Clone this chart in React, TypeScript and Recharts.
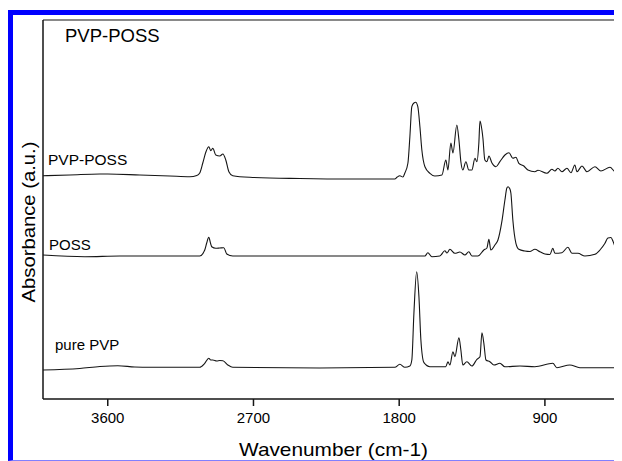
import React from "react";
import { LineChart, Line, XAxis, YAxis, ReferenceLine } from "recharts";

// wavenumber (cm-1), absorbance (a.u., offset traces)
const pvpPossSpectrum: [number, number][] = [
  [4000, 2.233], [3835, 2.24], [3649, 2.25], [3600, 2.25], [3402, 2.24], [3217, 2.23], [3093, 2.223],
  [3050, 2.235], [3032, 2.26], [3013, 2.36], [2994, 2.47], [2976, 2.523], [2964, 2.483], [2951, 2.507],
  [2933, 2.44], [2908, 2.43], [2889, 2.45], [2871, 2.39], [2852, 2.273], [2828, 2.233], [2723, 2.217],
  [2414, 2.205], [2105, 2.2], [1827, 2.2], [1814, 2.217], [1796, 2.233], [1777, 2.22], [1765, 2.26],
  [1746, 2.36], [1734, 2.623], [1722, 2.923], [1709, 2.96], [1698, 2.967], [1685, 2.923], [1672, 2.723],
  [1660, 2.49], [1641, 2.323], [1610, 2.257], [1580, 2.23], [1536, 2.24], [1512, 2.39], [1499, 2.29],
  [1481, 2.56], [1468, 2.46], [1444, 2.74], [1431, 2.59], [1419, 2.373], [1407, 2.29], [1388, 2.373],
  [1370, 2.29], [1351, 2.29], [1332, 2.407], [1320, 2.373], [1308, 2.56], [1301, 2.78], [1289, 2.69],
  [1283, 2.61], [1271, 2.39], [1258, 2.373], [1246, 2.43], [1227, 2.36], [1203, 2.323], [1178, 2.373],
  [1147, 2.44], [1122, 2.463], [1098, 2.407], [1079, 2.417], [1061, 2.357], [1030, 2.33], [1005, 2.29],
  [962, 2.273], [943, 2.287], [888, 2.257], [857, 2.297], [838, 2.28], [820, 2.307], [795, 2.273],
  [764, 2.307], [739, 2.263], [715, 2.34], [702, 2.273], [671, 2.33], [640, 2.273], [591, 2.323],
  [554, 2.28], [498, 2.317], [467, 2.273], [437, 2.267], [430, 2.26],
];

const possSpectrum: [number, number][] = [
  [4000, 1.44], [3742, 1.423], [3526, 1.43], [3032, 1.43], [3001, 1.49], [2989, 1.56], [2976, 1.617],
  [2964, 1.55], [2958, 1.523], [2933, 1.507], [2908, 1.51], [2883, 1.513], [2865, 1.45], [2828, 1.43],
  [2290, 1.43], [1796, 1.43], [1641, 1.43], [1623, 1.463], [1598, 1.423], [1549, 1.43], [1518, 1.483],
  [1505, 1.46], [1487, 1.497], [1456, 1.457], [1425, 1.47], [1394, 1.44], [1370, 1.473], [1351, 1.43],
  [1314, 1.43], [1277, 1.49], [1258, 1.51], [1246, 1.597], [1234, 1.49], [1209, 1.54], [1190, 1.59],
  [1166, 1.773], [1147, 1.99], [1135, 2.11], [1128, 2.123], [1116, 2.1], [1110, 2.057], [1098, 1.79],
  [1079, 1.557], [1061, 1.497], [1024, 1.48], [993, 1.475], [962, 1.497], [931, 1.473], [900, 1.45],
  [869, 1.445], [851, 1.507], [838, 1.457], [795, 1.463], [758, 1.517], [733, 1.457], [696, 1.457],
  [653, 1.43], [591, 1.447], [560, 1.49], [529, 1.557], [511, 1.61], [492, 1.615], [480, 1.58],
  [467, 1.523], [449, 1.473], [437, 1.497], [430, 1.49],
];

const purePvpSpectrum: [number, number][] = [
  [4000, 0.29], [3773, 0.305], [3649, 0.325], [3538, 0.333], [3433, 0.32], [3340, 0.317], [3032, 0.317],
  [3001, 0.357], [2976, 0.407], [2964, 0.39], [2951, 0.39], [2927, 0.38], [2908, 0.385], [2889, 0.383],
  [2858, 0.34], [2828, 0.317], [2290, 0.31], [1827, 0.317], [1796, 0.347], [1765, 0.317], [1734, 0.33],
  [1722, 0.39], [1709, 0.86], [1692, 1.273], [1678, 1.023], [1666, 0.59], [1647, 0.363], [1610, 0.323],
  [1512, 0.323], [1499, 0.373], [1487, 0.34], [1468, 0.473], [1456, 0.423], [1431, 0.613], [1419, 0.49],
  [1407, 0.34], [1382, 0.373], [1351, 0.33], [1320, 0.397], [1301, 0.423], [1289, 0.663], [1277, 0.557],
  [1264, 0.39], [1240, 0.373], [1215, 0.34], [1178, 0.357], [1147, 0.323], [1054, 0.33], [962, 0.323],
  [851, 0.357], [826, 0.313], [746, 0.34], [684, 0.313], [437, 0.313], [430, 0.313],
];

const xTicks = [3600, 2700, 1800, 900];
const xDomain: [number, number] = [430, 4000];
const yDomain: [number, number] = [0, 3.79];

const title = "PVP-POSS";
const seriesNames = ["PVP-POSS", "POSS", "pure PVP"];
const xLabel = "Wavenumber (cm-1)";
const yLabel = "Absorbance (a.u.)";

const toRows = (s: [number, number][]) => s.map(([wn, a]) => ({ wn, a }));

const FONT = "'Liberation Sans', Arial, Helvetica, sans-serif";
const INK = "#151515";

export default function App() {
  const W = 609;
  const H = 445;
  return (
    <div style={{ paddingTop: 2 }}>
      <div
        style={{
          position: "relative",
          boxSizing: "border-box",
          width: 614,
          height: 451,
          borderTop: "5px solid #0000ff",
          borderLeft: "5px solid #0000ff",
          borderBottom: "1px solid #8080ff",
          background: "#fff",
        }}
      >
        <LineChart width={W} height={H} margin={{ top: 5, right: 1, left: 0, bottom: 0 }}>
          <XAxis
            dataKey="wn"
            type="number"
            domain={xDomain}
            reversed
            ticks={xTicks}
            allowDataOverflow
            height={61}
            tickSize={7}
            tickMargin={6}
            stroke={INK}
            strokeWidth={1.5}
            tick={{ fill: "#000", fontSize: 15, fontFamily: FONT }}
          />
          <YAxis
            type="number"
            domain={yDomain}
            allowDataOverflow
            width={30}
            tick={false}
            tickLine={false}
            stroke={INK}
            strokeWidth={1.5}
          />
          <ReferenceLine y={yDomain[1]} stroke={INK} strokeWidth={1.2} />
          <ReferenceLine
            segment={[
              { x: xDomain[0], y: yDomain[1] },
              { x: xDomain[0], y: 2.89 },
            ]}
            stroke={INK}
            strokeWidth={1}
          />
          <Line data={toRows(pvpPossSpectrum)} dataKey="a" type="monotone" stroke={INK} strokeWidth={1.1} dot={false} isAnimationActive={false} />
          <Line data={toRows(possSpectrum)} dataKey="a" type="monotone" stroke={INK} strokeWidth={1.1} dot={false} isAnimationActive={false} />
          <Line data={toRows(purePvpSpectrum)} dataKey="a" type="monotone" stroke={INK} strokeWidth={1.1} dot={false} isAnimationActive={false} />
        </LineChart>
        <svg
          width={W}
          height={H}
          style={{ position: "absolute", left: 0, top: 0, pointerEvents: "none" }}
        >
          <g fontFamily={FONT} fill="#000">
            <text x={52} y={26.7} fontSize={18.5}>{title}</text>
            <text x={35} y={149.5} fontSize={15.5}>{seriesNames[0]}</text>
            <text x={36} y={234.7} fontSize={15}>{seriesNames[1]}</text>
            <text x={42} y={335} fontSize={15}>{seriesNames[2]}</text>
            <text x={320.5} y={441} fontSize={19} textAnchor="middle" textLength={189} lengthAdjust="spacingAndGlyphs">{xLabel}</text>
            <text transform="translate(22,207) rotate(-90)" fontSize={19} textAnchor="middle" textLength={161} lengthAdjust="spacingAndGlyphs">{yLabel}</text>
          </g>
        </svg>
      </div>
    </div>
  );
}
